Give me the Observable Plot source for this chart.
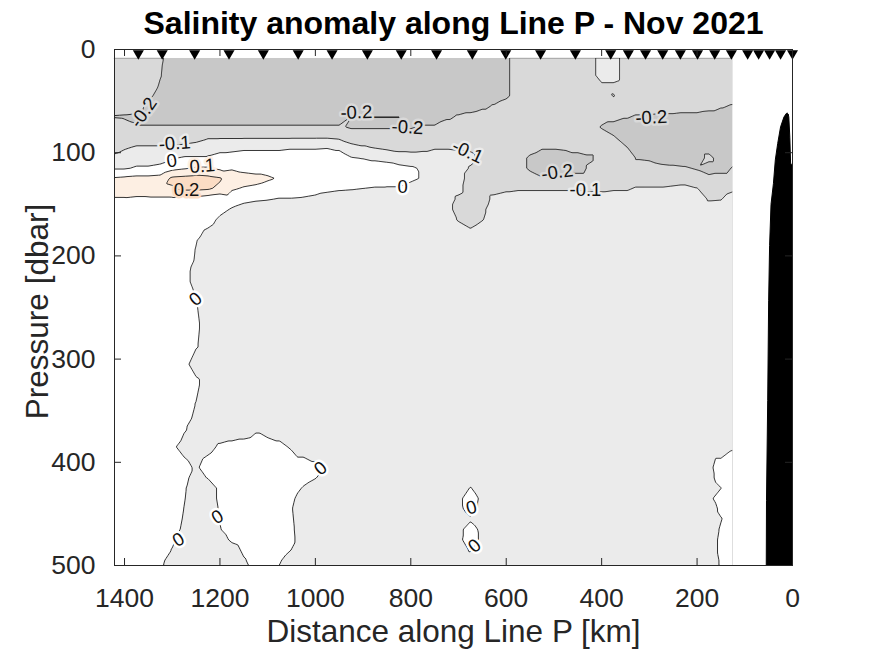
<!DOCTYPE html>
<html>
<head>
<meta charset="utf-8">
<script src="https://cdn.jsdelivr.net/npm/d3@7"></script>
<script src="https://cdn.jsdelivr.net/npm/@observablehq/plot@0.6"></script>
<style>
  html, body { margin: 0; padding: 0; background: #ffffff; }
  #chart { width: 875px; height: 656px; }
</style>
</head>
<body>
<div id="chart"></div>
<script>
// ---------------- text ----------------
const title = "Salinity anomaly along Line P - Nov 2021";
const xLabel = "Distance along Line P [km]";
const yLabel = "Pressure [dbar]";
const xTicks = [1400, 1200, 1000, 800, 600, 400, 200, 0];
const yTicks = [0, 100, 200, 300, 400, 500];

// ---------------- section grid (distance km, pressure dbar) ----------------
const gridDist = [1425,1400,1375,1350,1325,1300,1275,1250,1225,1200,
                  1175,1150,1125,1100,1075,1050,1025,1000,975,950,
                  925,900,875,850,825,800,775,750,725,700,
                  675,650,625,600,575,550,525,500,475,450,
                  425,400,375,350,325,300,275,250,225,200,
                  175,150,125];
const gridPres = [5,15,25,35,45,55,65,75,85,95,105,115,125,135,145,155,165,175,185,195,
                  205,215,225,235,245,265,285,305,325,345,365,385,405,
                  415,425,435,445,455,465,475,485,495,500];
// salinity anomaly, in hundredths (one row per pressure level, one column per distance)
const salAnom = [
[-15,-15,-15,-15,-18,-25,-25,-25,-25,-25, -25,-25,-25,-25,-25,-25,-25,-25,-25,-25, -25,-25,-25,-25,-25,-25,-25,-25,-25,-25, -25,-25,-25,-22,-15,-15,-15,-15,-15,-15, -15,-5,-5,-15,-15,-15,-15,-15,-15,-15, -15,-15,-15],
[-15,-15,-15,-15,-19,-25,-25,-25,-25,-25, -25,-25,-25,-25,-25,-25,-25,-25,-25,-25, -25,-25,-25,-25,-25,-25,-25,-25,-25,-25, -25,-25,-25,-22,-15,-15,-15,-15,-15,-15, -15,-5,-5,-15,-15,-15,-15,-15,-15,-15, -15,-15,-15],
[-15,-15,-15,-15,-19.5,-25,-25,-25,-25,-25, -25,-25,-25,-25,-25,-25,-25,-25,-25,-25, -25,-25,-25,-25,-25,-25,-25,-25,-25,-25, -25,-25,-25,-22,-15,-15,-15,-15,-15,-15, -15,-5,-5,-15,-15,-15,-15,-15,-15,-15, -15,-15,-15],
[-15,-15,-15,-15,-21,-25,-25,-25,-25,-25, -25,-25,-25,-25,-25,-25,-25,-25,-25,-25, -25,-25,-25,-25,-25,-25,-25,-25,-25,-25, -25,-25,-25,-22,-15,-15,-15,-15,-15,-15, -15,-12,-12,-15,-15,-15,-15,-15,-15,-15, -15,-15,-15],
[-15,-15,-15,-17,-25,-25,-25,-25,-25,-25, -25,-25,-25,-25,-25,-25,-25,-25,-25,-25, -25,-25,-25,-25,-25,-25,-25,-25,-25,-25, -25,-25,-25,-22,-15,-15,-15,-15,-15,-15, -15,-15,-9.5,-15,-15,-15,-15,-15,-15,-15, -15,-15,-15],
[-15,-15,-15,-23,-25,-25,-25,-25,-25,-25, -25,-25,-25,-25,-25,-25,-25,-25,-25,-25, -25,-25,-25,-25,-25,-25,-25,-25,-25,-25, -25,-22,-19,-15,-15,-15,-15,-15,-15,-15, -15,-15,-15,-15,-15,-15,-15,-15,-15,-15, -16,-19,-21],
[-20.5,-21,-22,-25,-25,-25,-25,-25,-25,-25, -25,-25,-25,-25,-25,-25,-25,-25,-25,-25, -19.9,-19.9,-19.9,-19.9,-19.9,-25,-25,-25,-22,-19, -17,-15,-15,-15,-15,-15,-15,-15,-15,-15, -15,-15,-15,-19,-21,-21,-22,-22,-23,-23, -25,-25,-25],
[-15,-17,-19,-19,-19,-19,-19,-19,-19,-19, -19,-19,-19,-19,-19,-19,-19,-19,-19,-19, -21,-21,-21,-21,-21,-21,-19,-19,-15,-15, -15,-15,-15,-15,-15,-15,-15,-15,-15,-15, -15,-21,-25,-25,-25,-25,-25,-25,-25,-25, -25,-25,-25],
[-15,-15,-15,-15,-15,-15,-14,-13,-11,-11, -11,-11,-11,-11,-11,-11,-11,-11,-11,-12, -15,-15,-15,-15,-15,-15,-15,-15,-15,-15, -15,-15,-15,-15,-15,-15,-15,-15,-15,-15, -15,-15,-19,-25,-25,-25,-25,-25,-25,-25, -25,-25,-25],
[-12,-11,-9,-9,-9,-9,-8,-7,-4,-3, -3,-2,-2,-2,-2,-1,-1,-1,-0.5,-2, -7,-9,-10.5,-12,-14,-14,-13,-11,-11,-12, -12,-15,-15,-15,-15,-15,-19,-19,-18,-15, -15,-15,-15,-19,-25,-25,-25,-25,-25,-25, -25,-25,-25],
[-9,-6,-4,-4,-3,-1,1,1,1,3, 4,5,5,5,5,5,5,5,5,5, 0.5,-0.5,-2,-3,-4,-5,-5,-5,-5,-5, -7,-15,-15,-15,-15,-22,-25,-25,-25,-25, -22,-15,-15,-15,-21,-22,-25,-25,-25,-25, -17,-25,-25],
[-1,-1,1,1,2,7,9,11,11,8, 9,7,6,6,6,6,5,5,5,5, 5,5,5,4,2,1,-1,-5,-5,-5, -11,-15,-15,-15,-15,-22,-25,-25,-25,-25, -18,-15,-15,-15,-15,-15,-17,-18,-19,-21, -25,-25,-19],
[11,12,13,13,14,22,23,24,23,21, 15,14,13,11.5,9,7,5,5,5,5, 5,5,5,4,4,2,-1,-5,-5,-5, -15,-15,-15,-15,-15,-15,-19,-19,-19,-15, -15,-15,-15,-15,-15,-15,-15,-15,-15,-15, -17,-15,-15],
[15,15,16,17,18,19,22,22,21,18, 11,9,8,5,5,5,4,3,2,1, 0.5,-0.2,-1,-1,-1,-4,-5,-5,-5,-7, -15,-15,-14,-12,-11,-11,-11,-11,-11,-11, -12,-12,-11,-11,-9,-9,-9,-8,-7,-9.5, -15,-15,-12],
[9,9,8,8,8,8,5,6,4,2, 5,2,1,0.5,-0.5,-0.5,-1,-2,-4,-5, -5,-5,-5,-5,-5,-5,-5,-5,-5,-12, -15,-15,-7,-5,-5,-5,-5,-5,-5,-5, -5,-5,-5,-5,-5,-5,-5,-5,-5,-5, -11,-10.5,-5],
[5,5,5,5,5,5,5,5,5,3, -1,-3,-4,-5,-5,-5,-5,-5,-5,-5, -5,-5,-5,-5,-5,-5,-5,-5,-5,-15, -15,-12,-5,-5,-5,-5,-5,-5,-5,-5, -5,-5,-5,-5,-5,-5,-5,-5,-5,-5, -5,-5,-5],
[5,5,5,5,5,5,5,4,4,-2, -5,-5,-5,-5,-5,-5,-5,-5,-5,-5, -5,-5,-5,-5,-5,-5,-5,-5,-5,-11, -15,-10.5,-5,-5,-5,-5,-5,-5,-5,-5, -5,-5,-5,-5,-5,-5,-5,-5,-5,-5, -5,-5,-5],
[5,5,5,5,5,5,5,2,-1,-5, -5,-5,-5,-5,-5,-5,-5,-5,-5,-5, -5,-5,-5,-5,-5,-5,-5,-5,-5,-5, -9,-5,-5,-5,-5,-5,-5,-5,-5,-5, -5,-5,-5,-5,-5,-5,-5,-5,-5,-5, -5,-5,-5],
[5,5,5,5,5,5,5,0.5,-5,-5, -5,-5,-5,-5,-5,-5,-5,-5,-5,-5, -5,-5,-5,-5,-5,-5,-5,-5,-5,-5, -5,-5,-5,-5,-5,-5,-5,-5,-5,-5, -5,-5,-5,-5,-5,-5,-5,-5,-5,-5, -5,-5,-5],
[5,5,5,5,5,5,5,-0.5,-5,-5, -5,-5,-5,-5,-5,-5,-5,-5,-5,-5, -5,-5,-5,-5,-5,-5,-5,-5,-5,-5, -5,-5,-5,-5,-5,-5,-5,-5,-5,-5, -5,-5,-5,-5,-5,-5,-5,-5,-5,-5, -5,-5,-5],
[5,5,5,5,5,5,4,-1,-5,-5, -5,-5,-5,-5,-5,-5,-5,-5,-5,-5, -5,-5,-5,-5,-5,-5,-5,-5,-5,-5, -5,-5,-5,-5,-5,-5,-5,-5,-5,-5, -5,-5,-5,-5,-5,-5,-5,-5,-5,-5, -5,-5,-5],
[5,5,5,5,5,5,3,-3,-5,-5, -5,-5,-5,-5,-5,-5,-5,-5,-5,-5, -5,-5,-5,-5,-5,-5,-5,-5,-5,-5, -5,-5,-5,-5,-5,-5,-5,-5,-5,-5, -5,-5,-5,-5,-5,-5,-5,-5,-5,-5, -5,-5,-5],
[5,5,5,5,5,5,3,-3,-5,-5, -5,-5,-5,-5,-5,-5,-5,-5,-5,-5, -5,-5,-5,-5,-5,-5,-5,-5,-5,-5, -5,-5,-5,-5,-5,-5,-5,-5,-5,-5, -5,-5,-5,-5,-5,-5,-5,-5,-5,-5, -5,-5,-5],
[5,5,5,5,5,5,4,-1,-5,-5, -5,-5,-5,-5,-5,-5,-5,-5,-5,-5, -5,-5,-5,-5,-5,-5,-5,-5,-5,-5, -5,-5,-5,-5,-5,-5,-5,-5,-5,-5, -5,-5,-5,-5,-5,-5,-5,-5,-5,-5, -5,-5,-5],
[5,5,5,5,5,5,5,0.5,-5,-5, -5,-5,-5,-5,-5,-5,-5,-5,-5,-5, -5,-5,-5,-5,-5,-5,-5,-5,-5,-5, -5,-5,-5,-5,-5,-5,-5,-5,-5,-5, -5,-5,-5,-5,-5,-5,-5,-5,-5,-5, -5,-5,-5],
[5,5,5,5,5,5,5,2,-5,-5, -5,-5,-5,-5,-5,-5,-5,-5,-5,-5, -5,-5,-5,-5,-5,-5,-5,-5,-5,-5, -5,-5,-5,-5,-5,-5,-5,-5,-5,-5, -5,-5,-5,-5,-5,-5,-5,-5,-5,-5, -5,-5,-5],
[5,5,5,5,5,5,5,1,-5,-5, -5,-5,-5,-5,-5,-5,-5,-5,-5,-5, -5,-5,-5,-5,-5,-5,-5,-5,-5,-5, -5,-5,-5,-5,-5,-5,-5,-5,-5,-5, -5,-5,-5,-5,-5,-5,-5,-5,-5,-5, -5,-5,-5],
[5,5,5,5,5,5,2,-3,-5,-5, -5,-5,-5,-5,-5,-5,-5,-5,-5,-5, -5,-5,-5,-5,-5,-5,-5,-5,-5,-5, -5,-5,-5,-5,-5,-5,-5,-5,-5,-5, -5,-5,-5,-5,-5,-5,-5,-5,-5,-5, -5,-5,-5],
[5,5,5,5,5,5,5,2,-5,-5, -5,-5,-5,-5,-5,-5,-5,-5,-5,-5, -5,-5,-5,-5,-5,-5,-5,-5,-5,-5, -5,-5,-5,-5,-5,-5,-5,-5,-5,-5, -5,-5,-5,-5,-5,-5,-5,-5,-5,-5, -5,-5,-5],
[5,5,5,5,5,5,5,-0.5,-5,-5, -5,-5,-5,-5,-5,-5,-5,-5,-5,-5, -5,-5,-5,-5,-5,-5,-5,-5,-5,-5, -5,-5,-5,-5,-5,-5,-5,-5,-5,-5, -5,-5,-5,-5,-5,-5,-5,-5,-5,-5, -5,-5,-5],
[5,5,5,5,5,5,1,-3,-5,-5, -5,-5,-2,-5,-5,-5,-5,-5,-5,-5, -5,-5,-5,-5,-5,-5,-5,-5,-5,-5, -5,-5,-5,-5,-5,-5,-5,-5,-5,-5, -5,-5,-5,-5,-5,-5,-5,-5,-5,-5, -5,-5,-5],
[5,5,5,5,5,1,-2,-4,-2,1, 2,3,4,4,2,-1,-5,-5,-5,-5, -5,-5,-5,-5,-5,-5,-5,-5,-5,-5, -5,-5,-5,-5,-5,-5,-5,-5,-5,-5, -5,-5,-5,-5,-5,-5,-5,-5,-5,-5, -5,-5,-1],
[5,5,5,5,5,5,2,-1,3,5, 5,5,5,5,5,5,5,2,-1,-5, -5,-5,-5,-5,-5,-5,-5,-5,-5,-5, -5,-5,-5,-5,-5,-5,-5,-5,-5,-5, -5,-5,-5,-5,-5,-5,-5,-5,-5,-5, -2,4,5],
[5,5,5,5,5,5,2,-3,0.5,5, 5,5,5,5,5,5,4,0.5,-5,-5, -5,-5,-5,-5,-5,-5,-5,-5,-5,-5, -5,-5,-5,-5,-5,-5,-5,-5,-5,-5, -5,-5,-5,-5,-5,-5,-5,-5,-5,-5, -3,4,5],
[5,5,5,5,5,5,1,-5,-5,2, 5,5,5,5,5,5,-1,-5,-5,-5, -5,-5,-5,-5,-5,-5,-5,-5,-5,-5, 0.5,-5,-5,-5,-5,-5,-5,-5,-5,-5, -5,-5,-5,-5,-5,-5,-5,-5,-5,-5, -5,-0.2,5],
[5,5,5,5,5,5,0.5,-5,-5,2, 5,5,5,5,5,2,-5,-5,-5,-5, -5,-5,-5,-5,-5,-5,-5,-5,-5,-2, 4,-2,-5,-5,-5,-5,-5,-5,-5,-5, -5,-5,-5,-5,-5,-5,-5,-5,-5,-5, -2,4,5],
[5,5,5,5,5,5,-0.2,-5,-5,1, 5,5,5,5,5,0.5,-5,-5,-5,-5, -5,-5,-5,-5,-5,-5,-5,-5,-5,-2, 3,-2,-5,-5,-5,-5,-5,-5,-5,-5, -5,-5,-5,-5,-5,-5,-5,-5,-5,-5, -5,2,5],
[5,5,5,5,5,5,-1,-5,-5,0.5, 5,5,5,5,5,1,-5,-5,-5,-5, -5,-5,-5,-5,-5,-5,-5,-5,-5,-5, -1,-5,-5,-5,-5,-5,-5,-5,-5,-5, -5,-5,-5,-5,-5,-5,-5,-5,-5,-5, -5,-0.5,5],
[5,5,5,5,5,4,-2,-5,-5,-0.5, 5,5,5,5,5,1.5,-5,-5,-5,-5, -5,-5,-5,-5,-5,-5,-5,-5,-5,-2, 3,-2,-5,-5,-5,-5,-5,-5,-5,-5, -5,-5,-5,-5,-5,-5,-5,-5,-5,-5, -5,1,5],
[5,5,5,5,5,2,-5,-5,-5,-5, 2,5,5,5,5,2,-5,-5,-5,-5, -5,-5,-5,-5,-5,-5,-5,-5,-5,-2, 4,-2,-5,-5,-5,-5,-5,-5,-5,-5, -5,-5,-5,-5,-5,-5,-5,-5,-5,-5, -5,2,5],
[5,5,5,5,5,-0.5,-5,-5,-5,-5, -5,2,5,5,5,-0.2,-5,-5,-5,-5, -5,-5,-5,-5,-5,-5,-5,-5,-5,-5, 1,-5,-5,-5,-5,-5,-5,-5,-5,-5, -5,-5,-5,-5,-5,-5,-5,-5,-5,-5, -5,2,5],
[5,5,5,5,3,-5,-5,-5,-5,-5, -5,-1,4,5,1,-5,-5,-5,-5,-5, -5,-5,-5,-5,-5,-5,-5,-5,-5,-5, -5,-5,-5,-5,-5,-5,-5,-5,-5,-5, -5,-5,-5,-5,-5,-5,-5,-5,-5,-5, -5,1,5],
[5,5,5,5,2,-5,-5,-5,-5,-5, -5,-2,3,4,-0.2,-5,-5,-5,-5,-5, -5,-5,-5,-5,-5,-5,-5,-5,-5,-5, -5,-5,-5,-5,-5,-5,-5,-5,-5,-5, -5,-5,-5,-5,-5,-5,-5,-5,-5,-5, -5,1,5]
];
// sampled section extent
const sectionWest = 1421, sectionEast = 124, sectionTop = 8, sectionBottom = 500;
const contourLevels = [-0.3, -0.2, -0.1, 0, 0.1, 0.2];

// ---------------- stations, bathymetry, contour labels ----------------
const stationDist = [1371,1321,1253,1181,1109,1036,965,891,820,746,671,601,528,455,
                     381,344,308,272,235,199,163,128,94,71,48,25,0];
const bathyDist = [55, 54.5, 52, 50, 48, 45, 40, 36, 31, 25, 18, 13, 11, 9, 7.7, 5.6, 4, 2, 0, 0];
const bathyPres = [500, 437, 340, 243, 190, 150, 130, 107, 91, 75, 65.5, 62, 61.6, 62.5, 65.5, 85, 110, 112, 112, 500];

const labelText  = ["-0.2","-0.2","-0.2","-0.1","0","0.1","0.2","0","-0.1","-0.2","-0.1","-0.2","0","0","0","0","0","0"];
const labelDist  = [1360, 914, 807, 1295, 1301, 1237, 1270, 817, 681, 493, 434, 296, 1251, 989, 1205, 1287, 673, 666];
const labelPres  = [61, 61, 75.5, 91, 108, 113, 136.5, 133, 99, 119, 136.5, 66, 242, 406, 453, 475, 444, 481];
const labelAngle = [-55, -2, 3, -4, -8, -4, 0, 0, 25, -8, 0, -3, -40, -40, -30, -30, -15, -40];

// ---------------- build tables ----------------
const section = [];
gridPres.forEach((p, i) => {
  if (salAnom[i].length !== gridDist.length) console.error("row", p, "has", salAnom[i].length);
  gridDist.forEach((d, j) => section.push({dist: d, pres: p, sal: salAnom[i][j] / 100}));
});
const stations = stationDist.map(d => ({dist: d}));
const bathy = bathyDist.map((d, i) => ({dist: d, pres: bathyPres[i]}));
const labels = labelText.map((t, i) => ({dist: labelDist[i], pres: labelPres[i], text: t, angle: labelAngle[i]}));

// ---------------- styles ----------------
const W = 875, H = 656, mL = 114, mR = 83, mT = 49, mB = 91;
const frameW = W - mL - mR, frameH = H - mT - mB, tickLen = 7;
const axisColor = "#262626";
const bandColors = ["#c8c8c8", "#d9d9d9", "#ebebeb", "#ffffff", "#fdefe3", "#fbdcc4"];
const bandBreaks = [-0.25, -0.15, -0.05, 0.05, 0.15];
const font = "'Liberation Sans', Arial, Helvetica, sans-serif";

const contourBase = {
  x: "dist", y: "pres", value: "sal",
  interpolate: "barycentric", pixelSize: 1,
  x1: sectionWest, x2: sectionEast, y1: sectionTop, y2: sectionBottom
};

const chart = Plot.plot({
  width: W, height: H,
  marginLeft: mL, marginRight: mR, marginTop: mT, marginBottom: mB,
  x: {domain: [1421, 0], axis: null},
  y: {domain: [0, 500], reverse: true, axis: null},
  color: {type: "threshold", domain: bandBreaks, range: bandColors},
  style: {fontFamily: font, background: "#ffffff", overflow: "visible"},
  marks: [
    Plot.contour(section, {...contourBase, thresholds: contourLevels, fill: "value", stroke: "none"}),
    Plot.contour(section, {...contourBase, thresholds: contourLevels.slice(1), fill: "none", stroke: "#1a1a1a", strokeWidth: 0.9}),
    // blank the unsampled strips (surface and inshore of the section)
    Plot.rect([0], {x1: sectionEast + 1, x2: 0, y1: 0, y2: 500, fill: "#ffffff"}),
    Plot.rect([0], {x1: sectionWest, x2: 0, y1: 0, y2: sectionTop + 0.6, fill: "#ffffff"}),
    // bathymetry
    Plot.line(bathy, {x: "dist", y: "pres", fill: "#000000", stroke: "#000000", strokeWidth: 1}),
    // contour labels
    Plot.text(labels, {
      x: "dist", y: "pres", text: "text", rotate: "angle",
      fontSize: 18.5, fill: "#111111", lineAnchor: "middle",
      stroke: d => +d.text + 0.04, strokeWidth: 5, paintOrder: "stroke"
    }),
    // stations
    Plot.dot(stations, {x: "dist", y: 3.8, symbol: "triangle", rotate: 180, r: 4.1, fill: "#000000", stroke: "none"}),
    // inward ticks on all four sides
    Plot.tickX(xTicks, {x: d => d, insetTop: frameH - tickLen, stroke: axisColor}),
    Plot.tickX(xTicks, {x: d => d, insetBottom: frameH - tickLen, stroke: axisColor}),
    Plot.tickY(yTicks, {y: d => d, insetRight: frameW - tickLen, stroke: axisColor}),
    Plot.tickY(yTicks, {y: d => d, insetLeft: frameW - tickLen, stroke: axisColor}),
    Plot.frame({stroke: axisColor, strokeWidth: 1}),
    // tick labels
    Plot.text(xTicks, {x: d => d, frameAnchor: "bottom", dy: 33, text: d => String(d),
      fontSize: 26.5, fill: axisColor, textAnchor: "middle", lineAnchor: "middle"}),
    Plot.text(yTicks, {y: d => d, frameAnchor: "left", dx: -19, text: d => String(d),
      fontSize: 26.5, fill: axisColor, textAnchor: "end", lineAnchor: "middle"}),
    // axis labels and title
    Plot.text([xLabel], {frameAnchor: "bottom", dy: 66, text: d => d, fontSize: 31.5,
      fill: axisColor, textAnchor: "middle", lineAnchor: "middle"}),
    Plot.text([yLabel], {frameAnchor: "left", dx: -77, dy: 4, rotate: -90, text: d => d, fontSize: 31.5,
      fill: axisColor, textAnchor: "middle", lineAnchor: "middle"}),
    Plot.text([title], {frameAnchor: "top", dy: -26, text: d => d, fontSize: 32, fontWeight: "bold",
      fill: "#000000", textAnchor: "middle", lineAnchor: "middle"})
  ]
});
document.getElementById("chart").appendChild(chart);
</script>
</body>
</html>
